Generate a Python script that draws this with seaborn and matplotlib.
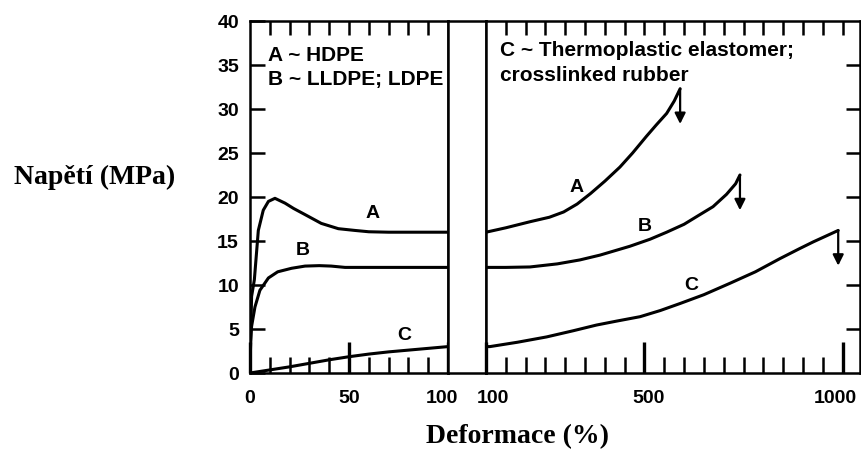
import numpy as np
import pandas as pd
import matplotlib
matplotlib.use("Agg")
import matplotlib.pyplot as plt
from matplotlib.ticker import FixedLocator
from matplotlib.transforms import ScaledTranslation
import seaborn as sns

# ---------------- data ----------------
A_left_x = [0, 0.8, 2.2, 4.2, 6.7, 9.3, 12.6, 17.7, 22, 27.8, 36, 44.6, 53, 60, 70, 80, 90, 100]
A_left_y = [0, 8.7, 10.6, 16.2, 18.5, 19.5, 19.85, 19.3, 18.7, 18.0, 17.0, 16.4, 16.2, 16.05, 16.0, 16.0, 16.0, 16.0]
B_left_x = [0, 0.3, 0.8, 2.5, 5, 9.3, 14, 21, 27.8, 35, 41, 48, 60, 80, 100]
B_left_y = [0, 3.5, 5.3, 7.5, 9.4, 10.8, 11.5, 11.9, 12.15, 12.2, 12.15, 12.0, 12.0, 12.0, 12.0]
C_left_x = [0, 10, 20, 30, 40, 50, 60, 70, 80, 90, 100]
C_left_y = [0, 0.35, 0.7, 1.1, 1.5, 1.85, 2.15, 2.4, 2.6, 2.8, 3.0]

A_right_x = [100, 150, 212, 260, 296, 330, 364, 400, 438, 470, 505, 530, 556, 575, 590]
A_right_y = [16.0, 16.5, 17.2, 17.7, 18.3, 19.2, 20.4, 21.8, 23.4, 25.0, 26.9, 28.2, 29.5, 30.9, 32.3]
B_right_x = [100, 150, 211, 280, 337, 388, 463, 514, 556, 600, 640, 673, 707, 730, 741]
B_right_y = [12.0, 12.0, 12.05, 12.4, 12.85, 13.4, 14.4, 15.2, 16.0, 16.9, 18.0, 18.9, 20.3, 21.5, 22.5]
C_right_x = [100, 110, 180, 253, 320, 379, 430, 489, 540, 590, 650, 716, 780, 842, 890, 926, 960, 989]
C_right_y = [3.0, 3.0, 3.5, 4.1, 4.8, 5.45, 5.9, 6.4, 7.1, 7.9, 8.9, 10.2, 11.5, 13.0, 14.1, 14.9, 15.6, 16.2]

left_curve_labels = {"A": (62, 18.1), "B": (26.4, 13.9), "C": (78, 4.3)}
right_curve_labels = {"A": (329, 21.1), "B": (501, 16.7), "C": (619, 9.9)}

left_legend = ["A ~ HDPE", "B ~ LLDPE; LDPE"]
right_legend = ["C ~ Thermoplastic elastomer;", "crosslinked rubber"]

y_ticks = [0, 5, 10, 15, 20, 25, 30, 35, 40]
left_xticks = [0, 50, 100]
right_xticks = [100, 500, 1000]
left_minor = [10, 20, 30, 40, 60, 70, 80, 90]
left_top = [10, 20, 30, 40, 50, 60, 70, 80, 90]
right_minor = [150, 200, 250, 300, 350, 400, 450, 550, 600, 650, 700, 750, 800, 850, 900, 950]
right_top = [150, 200, 250, 300, 350, 400, 450, 500, 550, 600, 650, 700, 750, 800, 850, 900, 950, 1000]
inner_y = [5, 10, 15, 20, 25, 30, 35]

y_label = "Napětí (MPa)"
x_label = "Deformace (%)"

# ---------------- style ----------------
sns.set_style("ticks")
plt.rcParams["font.family"] = ["Liberation Sans", "DejaVu Sans"]
plt.rcParams["xtick.color"] = "black"
plt.rcParams["ytick.color"] = "black"
plt.rcParams["text.color"] = "black"

W, H = 862, 450
fig = plt.figure(figsize=(W / 100, H / 100), dpi=100)

def frac(x0, x1):
    return x0 / W, (x1 - x0) / W

bottom = (H - 373) / H
height = (373 - 21) / H

lx, lw_ = frac(250, 448)
mx, mw = frac(448, 486)
rx, rw = frac(486, 860)
axL = fig.add_axes([lx, bottom, lw_, height])
axM = fig.add_axes([mx, bottom, mw, height])
axR = fig.add_axes([rx, bottom, rw, height])

SPINE = 1.8
LINE = 2.2
for ax in (axL, axM, axR):
    for s in ax.spines.values():
        s.set_visible(True)
        s.set_linewidth(SPINE)
        s.set_color("black")
    ax.set_facecolor("white")

axM.set_xticks([]); axM.set_yticks([])

def draw(ax, xs, ys):
    df = pd.DataFrame({"x": xs, "y": ys})
    sns.lineplot(data=df, x="x", y="y", ax=ax, color="black", lw=LINE,
                 sort=False, estimator=None)

for xs, ys in [(A_left_x, A_left_y), (B_left_x, B_left_y), (C_left_x, C_left_y)]:
    draw(axL, xs, ys)
for xs, ys in [(A_right_x, A_right_y), (B_right_x, B_right_y), (C_right_x, C_right_y)]:
    draw(axR, xs, ys)
    axR.annotate("", xy=(xs[-1], ys[-1] - 4.0), xytext=(xs[-1], ys[-1]),
                 arrowprops=dict(arrowstyle="-|>", color="black", lw=1.6,
                                 mutation_scale=16, shrinkA=0, shrinkB=0))

for ax in (axL, axR, axM):
    ax.set_xlabel(""); ax.set_ylabel("")
    ax.set_ylim(0, 40)
axL.set_xlim(0, 100)
axR.set_xlim(100, 1044)

lab_font = dict(fontsize=14, fontweight="bold", family=["Liberation Sans", "DejaVu Sans"])
for k, (x, y) in left_curve_labels.items():
    axL.text(x, y, k, ha="center", va="center", **lab_font)
for k, (x, y) in right_curve_labels.items():
    axR.text(x, y, k, ha="center", va="center", **lab_font)

leg_font = dict(fontsize=15, fontweight="bold", family=["Liberation Sans", "DejaVu Sans"])
axL.text(9, 36.1, left_legend[0], ha="left", va="center", **leg_font)
axL.text(9, 33.4, left_legend[1], ha="left", va="center", **leg_font)
axR.text(135, 36.6, right_legend[0], ha="left", va="center", **leg_font)
axR.text(135, 33.8, right_legend[1], ha="left", va="center", **leg_font)

TL = dict(fontsize=14, fontweight="bold")
TW = 1.8
# ---- left panel ticks ----
axL.yaxis.set_major_locator(FixedLocator(y_ticks))
axL.set_yticklabels([str(v) for v in y_ticks], **TL)
axL.xaxis.set_major_locator(FixedLocator(left_xticks))
axL.set_xticklabels([str(v) for v in left_xticks], **TL)
axL.tick_params(axis="y", which="major", direction="in", length=11, width=TW,
                left=True, right=False, pad=8, color="black")
axL.tick_params(axis="x", which="major", direction="in", length=22, width=2.4,
                bottom=True, top=False, pad=12, color="black")
axL.tick_params(which="minor", length=0)

# ---- right panel ticks ----
axR.yaxis.set_major_locator(FixedLocator([]))
axR.xaxis.set_major_locator(FixedLocator(right_xticks))
axR.set_xticklabels([str(v) for v in right_xticks], **TL)
axR.tick_params(axis="x", which="major", direction="in", length=22, width=2.4,
                bottom=True, top=False, pad=12, color="black")
axR.tick_params(axis="y", which="both", left=False, right=False)
axR.tick_params(which="minor", length=0)

# inward minor/top/right tick marks, lengths in axes fraction
LEN_BOT = 16 / 352
LEN_TOP = 14 / 352
LEN_RIGHT = 14 / 374
for ax, minor, top in ((axL, left_minor, left_top), (axR, right_minor, right_top)):
    xt = ax.get_xaxis_transform()
    for xv in minor:
        ax.plot([xv, xv], [0, LEN_BOT], transform=xt, color="black", lw=TW,
                clip_on=False, solid_capstyle="butt", zorder=5)
    for xv in top:
        ax.plot([xv, xv], [1 - LEN_TOP, 1], transform=xt, color="black", lw=TW,
                clip_on=False, solid_capstyle="butt", zorder=5)
yt = axR.get_yaxis_transform()
for yv in inner_y:
    axR.plot([1 - LEN_RIGHT, 1], [yv, yv], transform=yt, color="black", lw=TW,
             clip_on=False, solid_capstyle="butt", zorder=5)

# nudge a few x tick labels like the reference
def nudge(label, dx_px):
    label.set_transform(label.get_transform() + ScaledTranslation(dx_px / 100, 0, fig.dpi_scale_trans))

fig.canvas.draw()
nudge(axL.get_xticklabels()[-1], -6)
nudge(axR.get_xticklabels()[0], 7)
nudge(axR.get_xticklabels()[1], 4)
nudge(axR.get_xticklabels()[-1], -7)

serif = ["Liberation Serif", "DejaVu Serif"]
fig.text(95 / W, 1 - 177 / H, y_label, ha="center", va="center",
         fontsize=20, fontweight="bold", family=serif)
fig.text(518 / W, 1 - 437 / H, x_label, ha="center", va="center",
         fontsize=20, fontweight="bold", family=serif)

fig.savefig("out.png", dpi=100, facecolor="white")
